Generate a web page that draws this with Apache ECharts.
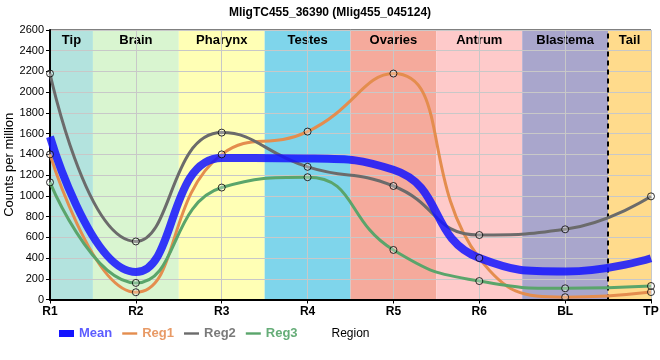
<!DOCTYPE html>
<html><head><meta charset="utf-8">
<script src="https://cdn.jsdelivr.net/npm/echarts@6/dist/echarts.min.js"></script>
<style>html,body{margin:0;padding:0;background:#fff}#c{width:660px;height:360px}</style>
</head><body><div id="c"></div>
<script>
var categories = ['R1','R2','R3','R4','R5','R6','BL','TP'];
var meanVals = [1570, 265, 1365, 1360, 1252, 400, 270, 398];
var reg1Vals = [1400, 70, 1400, 1620, 2180, 400, 22, 72];
var reg2Vals = [2180, 560, 1610, 1280, 1095, 622, 677, 995];
var reg3Vals = [1130, 160, 1080, 1180, 478, 178, 108, 130];
var regionNames = ['Tip','Brain','Pharynx','Testes','Ovaries','Antrum','Blastema','Tail'];
var regionColors = ['#b3e3de','#d9f5d0','#ffffb5','#7fd5eb','#f5aa9c','#fecaca','#a9a6cc','#ffdb8c'];
var yTicks = {min:0, max:2600, interval:200};

function pts(arr){ return arr.map(function(v,i){ return [i,v]; }); }

var bands = regionNames.map(function(n,i){
  var s = i===0 ? 0 : i-0.5, e = i===regionNames.length-1 ? categories.length-1 : i+0.5;
  return [{xAxis:s, name:n, itemStyle:{color:regionColors[i]}}, {xAxis:e}];
});

var chart = echarts.init(document.getElementById('c'));
var lineCommon = {type:'line', smooth:0.5, showSymbol:false, symbol:'none'};
var mk = function(arr){ return {type:'scatter', data:pts(arr), symbol:'circle', symbolSize:7, z:20, silent:true,
  itemStyle:{color:'rgba(255,255,255,0.35)', borderColor:'#000', borderWidth:1}}; };
var lineIcon = 'path://M0,0L15,0L15,2.4L0,2.4Z';
chart.setOption({
  animation:false,
  title:{text:'MligTC455_36390 (Mlig455_045124)', left:'center', top:2,
    textStyle:{fontFamily:'Liberation Sans, Arial', fontSize:12, fontWeight:'bold', color:'#000'}},
  grid:{left:50, right:9, top:30, bottom:60.5, show:true, borderColor:'#000', borderWidth:1, backgroundColor:'transparent',
    containLabel:false, outerBoundsMode:'none'},
  legend:{left:54, top:322, itemWidth:15, itemHeight:7, itemGap:10, symbolKeepAspect:true,
    textStyle:{fontFamily:'Liberation Sans, Arial', fontSize:13, fontWeight:'bold'},
    data:[{name:'Mean', icon:'rect', textStyle:{color:'#5c5cff'}},
      {name:'Reg1', icon:lineIcon, textStyle:{color:'#e89a66'}},
      {name:'Reg2', icon:lineIcon, textStyle:{color:'#7a7a7a'}},
      {name:'Reg3', icon:lineIcon, textStyle:{color:'#66ad78'}}]},
  xAxis:{type:'value', min:0, max:categories.length-1, interval:1, z:5,
    name:'Region', nameLocation:'middle', nameGap:28, nameMoveOverlap:false,
    nameTextStyle:{fontFamily:'Liberation Sans, Arial', fontSize:12, color:'#000'},
    axisLine:{lineStyle:{color:'#000', width:2}},
    axisTick:{show:true, length:4, lineStyle:{color:'#000'}},
    axisLabel:{formatter:function(v){return categories[v];}, fontFamily:'Liberation Sans, Arial', fontSize:12, fontWeight:'bold', color:'#000', margin:6},
    splitLine:{show:true, lineStyle:{color:'#c8c8c8', width:1}}},
  yAxis:{type:'value', min:yTicks.min, max:yTicks.max, interval:yTicks.interval, z:5,
    name:'Counts per million', nameLocation:'middle', nameGap:34, nameMoveOverlap:false,
    nameTextStyle:{fontFamily:'Liberation Sans, Arial', fontSize:13, color:'#000'},
    axisLine:{show:true, lineStyle:{color:'#000', width:2}},
    axisTick:{show:true, length:4, lineStyle:{color:'#000'}},
    axisLabel:{formatter:function(v){return String(v);}, fontFamily:'Liberation Sans, Arial', fontSize:11, color:'#000', margin:6},
    splitLine:{show:true, lineStyle:{color:'#c8c8c8', width:1}}},
  series:[
    {type:'line', data:[], z:1, silent:true,
      markArea:{silent:true, label:{show:true, position:'insideTop', distance:4, color:'#000', fontWeight:'bold', fontSize:13, fontFamily:'Liberation Sans, Arial'},
        itemStyle:{opacity:1}, data:bands},
      markLine:{silent:true, symbol:'none', label:{show:false}, lineStyle:{color:'#000', type:[5,4], width:2}, data:[{xAxis:6.5}]}},
    Object.assign({}, lineCommon, {name:'Reg1', data:pts(reg1Vals), z:10, color:'#e48d4e', lineStyle:{color:'#e48d4e', width:3}}),
    Object.assign({}, lineCommon, {name:'Reg2', data:pts(reg2Vals), z:10, color:'#6b6b6b', lineStyle:{color:'#6b6b6b', width:3}}),
    Object.assign({}, lineCommon, {name:'Reg3', data:pts(reg3Vals), z:10, color:'#5aa56b', lineStyle:{color:'#5aa56b', width:3}}),
    Object.assign({}, lineCommon, {name:'Mean', data:pts(meanVals), z:12, color:'#1414ff', lineStyle:{color:'#1414ff', width:8, opacity:0.85, cap:'butt'}}),
    mk(reg1Vals), mk(reg2Vals), mk(reg3Vals)
  ]
});
</script></body></html>
